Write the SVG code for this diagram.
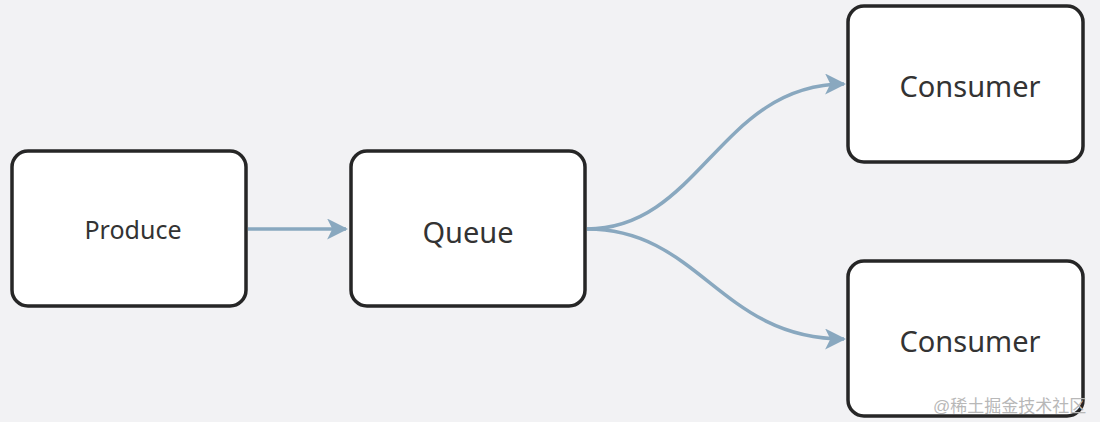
<svg xmlns="http://www.w3.org/2000/svg" width="1100" height="422" viewBox="0 0 1100 422">
<style>
.box{fill:#ffffff;stroke:#262626;stroke-width:3.5}
.lbl{font-family:"Noto Sans","Open Sans",sans-serif;fill:#333333;text-anchor:middle;dominant-baseline:central}
.edge{fill:none;stroke:#89a8bf;stroke-width:3.5}
.wm{font-family:"Liberation Sans","Noto Sans CJK SC",sans-serif;fill:#b8b8b8;font-size:17px}
</style>
<defs>
<marker id="arr" viewBox="0 0 10 10" refX="9" refY="5" markerWidth="6" markerHeight="6" markerUnits="strokeWidth" orient="auto">
<path d="M0,0 L10,5 L0,10 L2.5,5 Z" fill="#89a8bf"/>
</marker>
</defs>
<rect width="1100" height="422" fill="#f2f2f4"/>
<g id="connectors">
<path class="edge" d="M248,229 L346,229" marker-end="url(#arr)"/>
<path class="edge" d="M587,229 C700,229 720,84 844,84" marker-end="url(#arr)"/>
<path class="edge" d="M587,229 C700,229 720,339 844,339" marker-end="url(#arr)"/>
</g>
<g id="produce">
<rect class="box" x="12" y="151" width="234" height="155" rx="16"/>
<text class="lbl" x="133" y="229" font-size="25">Produce</text>
</g>
<g id="queue">
<rect class="box" x="351" y="151" width="234" height="155" rx="16"/>
<text class="lbl" x="468" y="231" font-size="29">Queue</text>
</g>
<g id="consumer1">
<rect class="box" x="848" y="6" width="235" height="156" rx="16"/>
<text class="lbl" x="970" y="85" font-size="29">Consumer</text>
</g>
<g id="consumer2">
<rect class="box" x="848" y="261" width="235" height="155" rx="16"/>
<text class="lbl" x="970" y="340" font-size="29">Consumer</text>
</g>
<text class="wm" x="933" y="412">@稀土掘金技术社区</text>
</svg>
